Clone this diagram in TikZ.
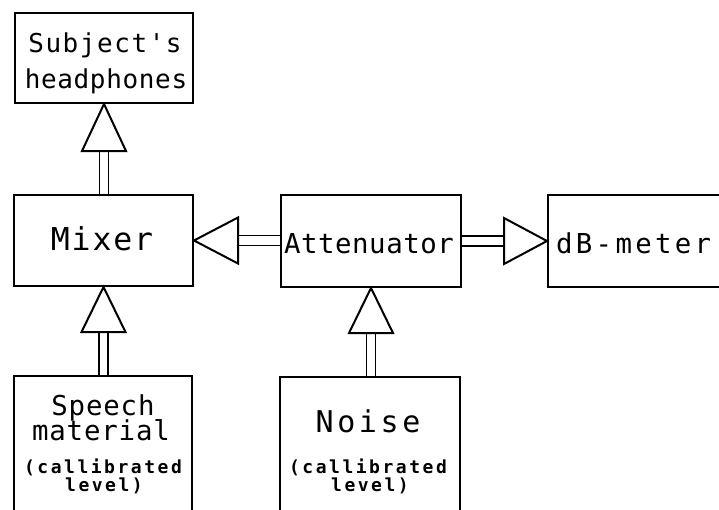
\documentclass[tikz,border=0pt]{standalone}
\usepackage{fontspec}
\setmonofont{DejaVu Sans Mono}
\newfontfamily\plotfont{DejaVu Sans Mono}
\newfontfamily\plotbold{DejaVu Sans Mono Bold}
\usetikzlibrary{calc}

% plotter-style lettering: size, tracking (percent), text
\newcommand\plt[3]{{\plotfont\fontsize{#1}{#1}\selectfont\addfontfeature{LetterSpace=#2}#3}}
\newcommand\pltb[3]{{\plotbold\fontsize{#1}{#1}\selectfont\addfontfeature{LetterSpace=#2}#3}}

\tikzset{
  unit/.style={draw, line width=2pt, inner sep=0pt, minimum width=#1},
  lbl/.style={inner sep=0pt, anchor=base},
  wire/.style={line width=1.9pt},
  head/.style={line width=2pt, line join=miter, fill=white},
}

\begin{document}
\begin{tikzpicture}[x=1pt,y=-1pt]
\clip (0,0) rectangle (719,509);
\fill[white] (0,0) rectangle (719,509);

% units
\node[unit=178pt, minimum height=90pt] (hp)  at (104,58)  {};
\node[unit=179pt, minimum height=91pt] (mix) at (103.5,240.5) {};
\node[unit=180pt, minimum height=92pt] (att) at (371,241) {};
\node[unit=220pt, minimum height=92pt] (dbm) at (658,241) {};
\node[unit=178pt, minimum height=170pt] (sp) at (103,461) {};
\node[unit=180pt, minimum height=170pt] (ns) at (370,462) {};

% lettering
\node[lbl] (t1) at (105,52)  {\plt{26}{6}{Subject's}};
\node[lbl] (t2) at (106,88)  {\plt{26}{2.5}{headphones}};
\node[lbl] (t3) at (102,250) {\plt{31.5}{6}{Mixer}};
\node[lbl] (t4) at (369,253) {\plt{27.4}{2}{Attenuator}};
\node[lbl, anchor=base west] (t5) at (556,253) {\plt{27.4}{12}{dB-meter}};
\node[lbl] (t6) at (103,415) {\plt{27.4}{3}{Speech}};
\node[lbl] (t7) at (101,440) {\plt{27.4}{3}{material}};
\node[lbl] (t8) at (103,473) {\pltb{18}{14}{(callibrated}};
\node[lbl] (t9) at (104,491) {\pltb{18}{14}{level)}};
\node[lbl] (t10) at (368,432) {\plt{30}{12}{Noise}};
\node[lbl] (t11) at (368,473) {\pltb{18}{14}{(callibrated}};
\node[lbl] (t12) at (370,491) {\pltb{18}{14}{level)}};

% mixer -> headphones
\coordinate (a1) at (hp.south);
\draw[wire] ($(a1)+(-4.5,47)$) coordinate (s1) -- (s1 |- mix.north);
\draw[wire] ($(a1)+(4.5,47)$) coordinate (s2) -- (s2 |- mix.north);
\draw[head] (a1) -- ++(-22,47) -- ++(44,0) -- cycle;

% speech -> mixer
\coordinate (a2) at (mix.south);
\draw[wire] ($(a2)+(-4.5,45)$) coordinate (s3) -- (s3 |- sp.north);
\draw[wire] ($(a2)+(4.5,45)$) coordinate (s4) -- (s4 |- sp.north);
\draw[head] (a2) -- ++(-22,45) -- ++(44,0) -- cycle;

% noise -> attenuator
\coordinate (a3) at (att.south);
\draw[wire] ($(a3)+(-4.5,45)$) coordinate (s5) -- (s5 |- ns.north);
\draw[wire] ($(a3)+(4.5,45)$) coordinate (s6) -- (s6 |- ns.north);
\draw[head] (a3) -- ++(-22,45) -- ++(44,0) -- cycle;

% attenuator -> mixer
\coordinate (a4) at (mix.east);
\draw[wire] ($(a4)+(44,-5)$) coordinate (s7) -- (s7 -| att.west);
\draw[wire] ($(a4)+(44,5)$) coordinate (s8) -- (s8 -| att.west);
\draw[head] (a4) -- ++(44,-23) -- ++(0,46) -- cycle;

% attenuator -> dB-meter
\coordinate (a5) at (dbm.west);
\draw[wire] ($(a5)+(-43,-5)$) coordinate (s9) -- (s9 -| att.east);
\draw[wire] ($(a5)+(-43,5)$) coordinate (s10) -- (s10 -| att.east);
\draw[head] (a5) -- ++(-43,-23) -- ++(0,46) -- cycle;
\end{tikzpicture}
\end{document}
